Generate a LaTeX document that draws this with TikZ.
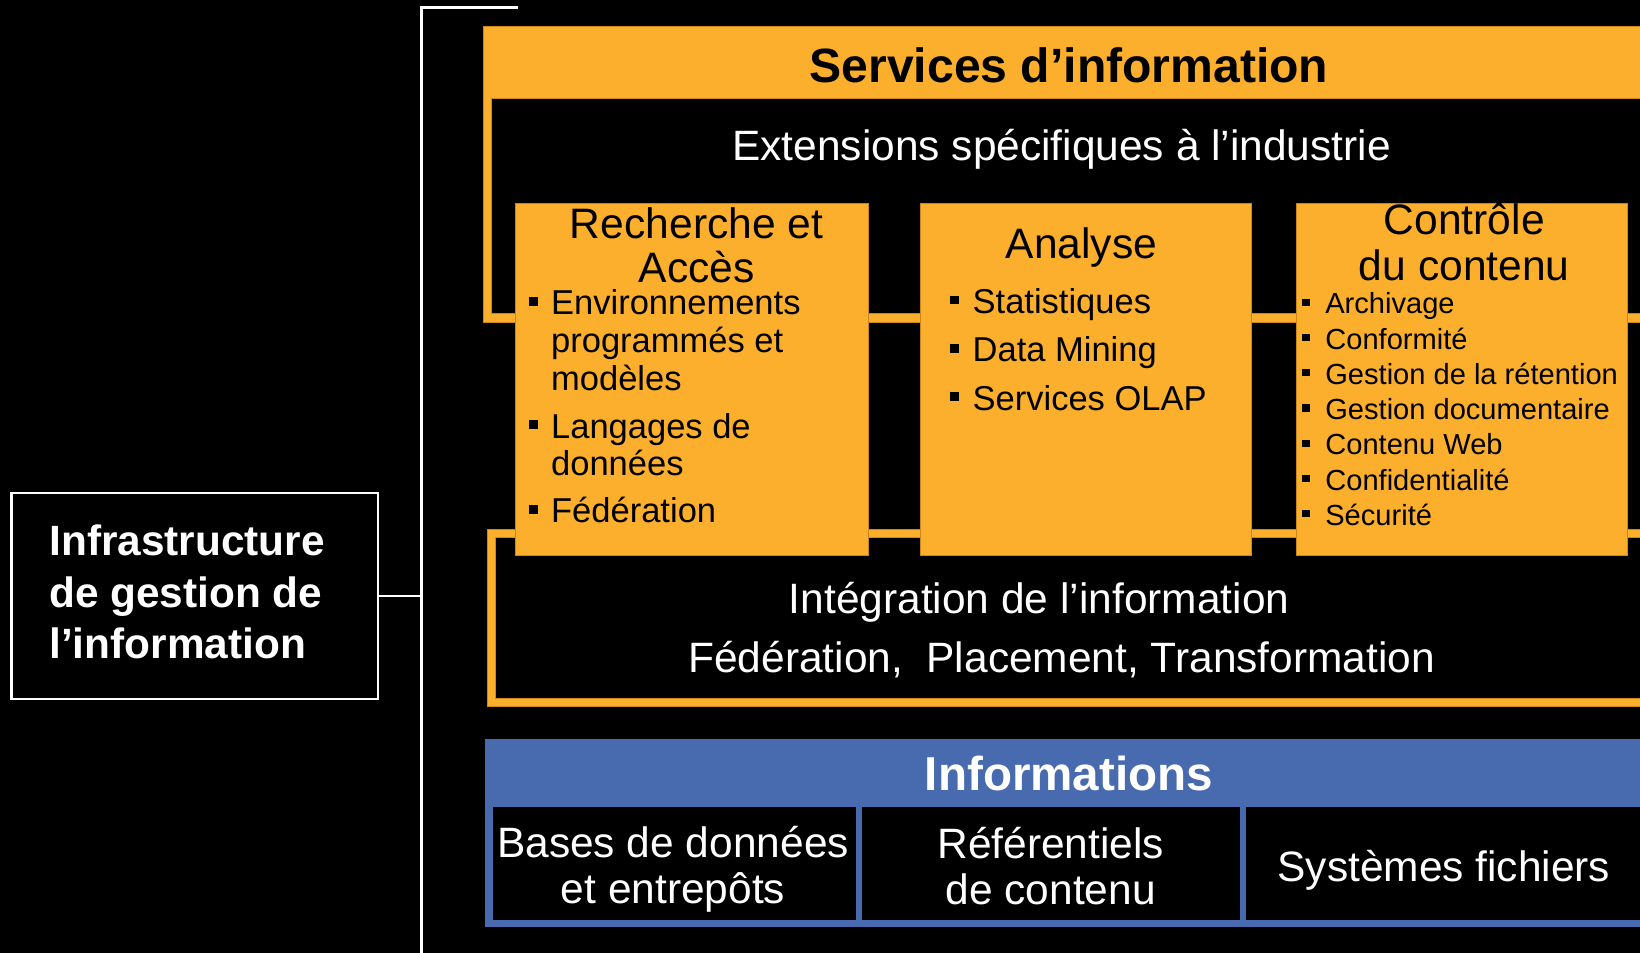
\documentclass[tikz,border=0pt]{standalone}
\usepackage{fontspec}
\setmainfont{Liberation Sans}
\definecolor{org}{RGB}{251,175,44}
\definecolor{orgdk}{RGB}{205,135,25}
\definecolor{blu}{RGB}{72,106,175}
\newcommand\fsz[2]{\fontsize{#1}{#2}\selectfont}
\newcommand\bul{\rule[0.27em]{0.25em}{0.25em}}
\newcommand\itm[2]{\bul\hspace{#1}\begin{tabular}[t]{@{}l@{}}#2\end{tabular}}
\newcommand\ctr[1]{\begin{tabular}[t]{@{}c@{}}#1\end{tabular}}
\tikzset{
  txt/.style={inner sep=0pt, anchor=base},
  obox/.style={fill=org, draw=orgdk, line width=0.8pt, inner sep=0pt, anchor=north west},
  cell/.style={fill=black, inner sep=0pt, anchor=north west},
  wline/.style={draw=white, line width=2.5pt},
  ofrm/.style={fill=org, draw=orgdk, line width=0.8pt},
  ifrm/.style={fill=black, draw=orgdk, line width=0.8pt},
}
\begin{document}
\begin{tikzpicture}[x=1pt,y=-1pt]
\path[use as bounding box, fill=black] (0,0) rectangle (1568,911);
\clip (0,0) rectangle (1568,911);

% bracket
\coordinate (brh) at (494,7);
\coordinate (brt) at (403,7);
\coordinate (brb) at (403,930);
\draw[wline, line cap=rect] (brh) -- (brt) -- (brb);

% left box
\node[wline, inner sep=0pt, anchor=north west, minimum width=350pt, minimum height=197pt] (infra) at (10,470) {};
\node[txt, anchor=base west, text=white, font=\fsz{40.5}{49}\bfseries] (infratxt) at (47,531.5)
  {\begin{tabular}[t]{@{}l@{}}Infrastructure\\de gestion de\\l’information\end{tabular}};
\draw[wline] (infra.east) -- (infra.east -| brt);

% services frame
\filldraw[ofrm] (462.2,25.5) rectangle (1600,308.5);
\filldraw[ifrm] (470.2,94.3) rectangle (1600,300);
\node[txt, font=\fsz{46}{52}\bfseries] (svc) at (1022,78.5) {Services d’information};
\node[txt, text=white, font=\fsz{40.6}{44}] (ext) at (1015,153.5) {Extensions spécifiques à l’industrie};

% integration frame
\filldraw[ofrm] (465.6,506) rectangle (1600,675.6);
\filldraw[ifrm] (473.6,513.6) rectangle (1600,667.6);
\node[txt, text=white, font=\fsz{40.6}{44}] (integ) at (993.5,586.5) {Intégration de l’information};
\node[txt, text=white, font=\fsz{40.6}{44}] (integ2) at (1015,642.5) {Fédération,\ \ Placement, Transformation};

% three orange boxes
\node[obox, minimum width=338pt, minimum height=336.6pt] (rech) at (492,194) {};
\node[obox, minimum width=316pt, minimum height=336.6pt] (ana) at (880,194) {};
\node[obox, minimum width=317pt, minimum height=336.6pt] (ctl) at (1239,194) {};

\node[txt, font=\fsz{40.7}{41}] (rechT) at (666,228) {\ctr{Recherche et\\Accès}};
\node[txt, font=\fsz{40.7}{44}] (anaT) at (1034,247.5) {Analyse};
\node[txt, font=\fsz{40.7}{44}] (ctlT) at (1400,224.5) {\ctr{Contrôle\\du contenu}};

\node[txt, anchor=base west, font=\fsz{33}{36}] (r1) at (506,301) {\itm{12.5pt}{Environnements\\programmés et\\modèles}};
\node[txt, anchor=base west, font=\fsz{33}{36}] (r2) at (506,419) {\itm{12.5pt}{Langages de\\données}};
\node[txt, anchor=base west, font=\fsz{33}{36}] (r3) at (506,500) {\itm{12.5pt}{Fédération}};

\node[txt, anchor=base west, font=\fsz{33}{36}] (a1) at (908,300) {\itm{13.5pt}{Statistiques}};
\node[txt, anchor=base west, font=\fsz{33}{36}] (a2) at (908,346) {\itm{13.5pt}{Data Mining}};
\node[txt, anchor=base west, font=\fsz{33}{36}] (a3) at (908,392) {\itm{13.5pt}{Services OLAP}};

\foreach \t [count=\i] in {Archivage, Conformité, Gestion de la rétention, Gestion documentaire, Contenu Web, Confidentialité, Sécurité}
  \node[txt, anchor=base west, font=\fsz{27.8}{32}] (c\i) at (1245,{300+33.7*(\i-1)}) {\itm{15pt}{\t}};

% informations
\fill[blu] (463.7,706.6) rectangle (1600,886.5);
\node[txt, text=white, font=\fsz{45.5}{50}\bfseries] (info) at (1022,755.5) {Informations};
\node[cell, minimum width=347.6pt, minimum height=107.3pt] (bases) at (471,771.7) {};
\node[cell, minimum width=361.6pt, minimum height=107.9pt] (refs) at (824,771.7) {};
\node[cell, minimum width=409pt, minimum height=107.9pt] (sys) at (1191,771.7) {};
\node[txt, text=white, font=\fsz{40.6}{44}] (basesT) at (643.5,819.5) {\ctr{Bases de données\\et entrepôts}};
\node[txt, text=white, font=\fsz{40.6}{44}] (refsT) at (1004.5,820.5) {\ctr{Référentiels\\de contenu}};
\node[txt, text=white, font=\fsz{40.6}{44}] (sysT) at (1380.5,842.5) {Systèmes fichiers};
\end{tikzpicture}
\end{document}
